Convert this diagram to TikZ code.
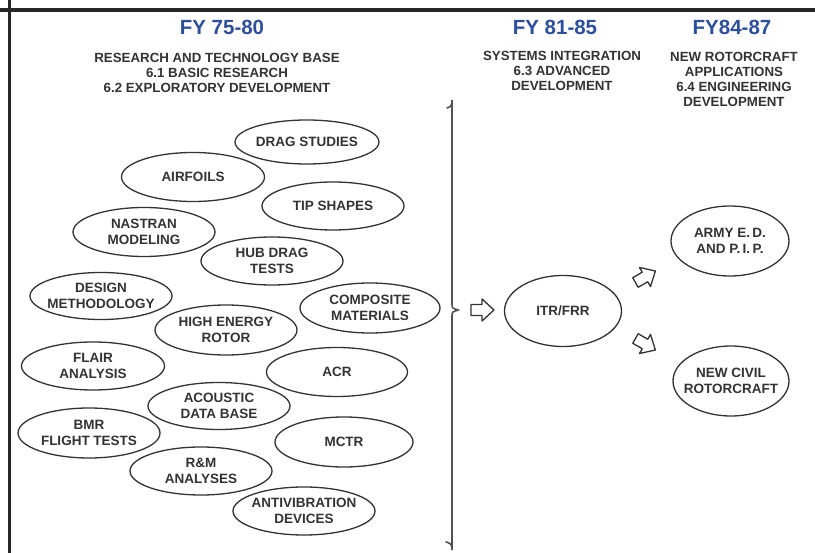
\documentclass[tikz,border=0pt]{standalone}
\usepackage{fontspec}
\setmainfont{Liberation Sans}
\usetikzlibrary{shapes.geometric}
\definecolor{ttlblue}{HTML}{2D4F9E}
\definecolor{ink}{HTML}{333333}
\newcommand{\blockarrow}[3]{% name, position, rotation
  \coordinate (#1) at (#2);
  \draw[blk,shift={(#1)},rotate=#3]
    (-11,-5.5) -- (0,-5.5) -- (0,-11) -- (12,0) -- (0,11) -- (0,5.5) -- (-11,5.5) -- cycle;}
\begin{document}
\begin{tikzpicture}[x=1pt,y=-1pt,
  oval/.style={ellipse,draw=ink,line width=1.3pt,inner sep=0pt},
  otext/.style={text=ink,align=center,font=\fontsize{13.5}{16.5}\selectfont\bfseries,inner sep=0pt},
  ttl/.style={text=ttlblue,font=\fontsize{20.5}{22}\selectfont\bfseries,inner sep=0pt},
  sub/.style={text=ink,align=center,font=\fontsize{13.3}{15}\selectfont\bfseries,inner sep=0pt},
  blk/.style={draw=ink,line width=1.3pt,line join=round,fill=white}]
\useasboundingbox[fill=white] (0,0) rectangle (815,553);
% frame
\draw[line width=3.5pt,black!85] (0,10) -- (815,10);
\draw[line width=3.5pt,black!85] (9.5,0) -- (9.5,553);
% titles
\node[ttl] (t1) at (222,27) {FY 75-80};
\node[ttl] (t2) at (555,27) {FY 81-85};
\node[ttl] (t3) at (732,27) {FY84-87};
\node[sub] (s1) at (217,73) {RESEARCH AND TECHNOLOGY BASE\\6.1 BASIC RESEARCH\\6.2 EXPLORATORY DEVELOPMENT};
\node[sub] (s2) at (562,71) {SYSTEMS INTEGRATION\\6.3 ADVANCED\\DEVELOPMENT};
\node[sub] (s3) at (734,79) {NEW ROTORCRAFT\\APPLICATIONS\\6.4 ENGINEERING\\DEVELOPMENT};
% left ellipses
\node[oval,minimum width=144pt,minimum height=44pt] (drag) at (307,142) {};
\node[otext] at (drag) {DRAG STUDIES};
\node[oval,minimum width=143pt,minimum height=49pt] (air) at (193,177) {};
\node[otext] at (air) {AIRFOILS};
\node[oval,minimum width=142pt,minimum height=48pt] (tip) at (333,206) {};
\node[otext] at (tip) {TIP SHAPES};
\node[oval,minimum width=142pt,minimum height=49pt] (nas) at (144,232) {};
\node[otext] at (nas) {NASTRAN\\MODELING};
\node[oval,minimum width=142pt,minimum height=48pt] (hub) at (272,261) {};
\node[otext] at (hub) {HUB DRAG\\TESTS};
\node[oval,minimum width=142pt,minimum height=47pt] (des) at (101,296) {};
\node[otext] at (des) {DESIGN\\METHODOLOGY};
\node[oval,minimum width=140pt,minimum height=50pt] (comp) at (370,308) {};
\node[otext] at (comp) {COMPOSITE\\MATERIALS};
\node[oval,minimum width=142pt,minimum height=50pt] (hig) at (226,330) {};
\node[otext] at (hig) {HIGH ENERGY\\ROTOR};
\node[oval,minimum width=143pt,minimum height=48pt] (fla) at (93,366) {};
\node[otext] at (fla) {FLAIR\\ANALYSIS};
\node[oval,minimum width=141pt,minimum height=49pt] (acr) at (337,372) {};
\node[otext] at (acr) {ACR};
\node[oval,minimum width=142pt,minimum height=47pt] (aco) at (219,406) {};
\node[otext] at (aco) {ACOUSTIC\\DATA BASE};
\node[oval,minimum width=142pt,minimum height=50pt] (bmr) at (89,433) {};
\node[otext] at (bmr) {BMR\\FLIGHT TESTS};
\node[oval,minimum width=138pt,minimum height=50pt] (mctr) at (344,442) {};
\node[otext] at (mctr) {MCTR};
\node[oval,minimum width=142pt,minimum height=48pt] (rm) at (201,471) {};
\node[otext] at (rm) {R\&M\\ANALYSES};
\node[oval,minimum width=142pt,minimum height=48pt] (anti) at (304,511) {};
\node[otext] at (anti) {ANTIVIBRATION\\DEVICES};
% brace
\coordinate (btop) at (452,107);
\coordinate (bbot) at (452,543);
\coordinate (btip) at (458,310);
\draw[draw=ink!85,line width=1.6pt,line cap=round]
  ([xshift=-5pt,yshift=-1pt]btop) .. controls ([xshift=-1pt]btop) and ([yshift=2pt]btop) .. ([yshift=7pt]btop)
  -- (452,304) .. controls (452,308) .. (btip)
  .. controls (452,312) .. (452,316)
  -- ([yshift=-7pt]bbot) .. controls ([yshift=-2pt]bbot) and ([xshift=-1pt]bbot) .. ([xshift=-6pt,yshift=1pt]bbot);
% right side
\node[oval,minimum width=117pt,minimum height=71pt] (itr) at (563,311) {};
\node[otext] at (itr) {ITR/FRR};
\node[oval,minimum width=118pt,minimum height=70pt] (army) at (730,241) {};
\node[otext] at (army) {ARMY E.\,D.\\AND P.\,I.\,P.};
\node[oval,minimum width=116pt,minimum height=70pt] (civ) at (731,381) {};
\node[otext] at (civ) {NEW CIVIL\\ROTORCRAFT};
% block arrows
\blockarrow{a1}{482,310}{0}
\blockarrow{a2}{645,277}{30}
\blockarrow{a3}{645,344}{-30}
\end{tikzpicture}
\end{document}
